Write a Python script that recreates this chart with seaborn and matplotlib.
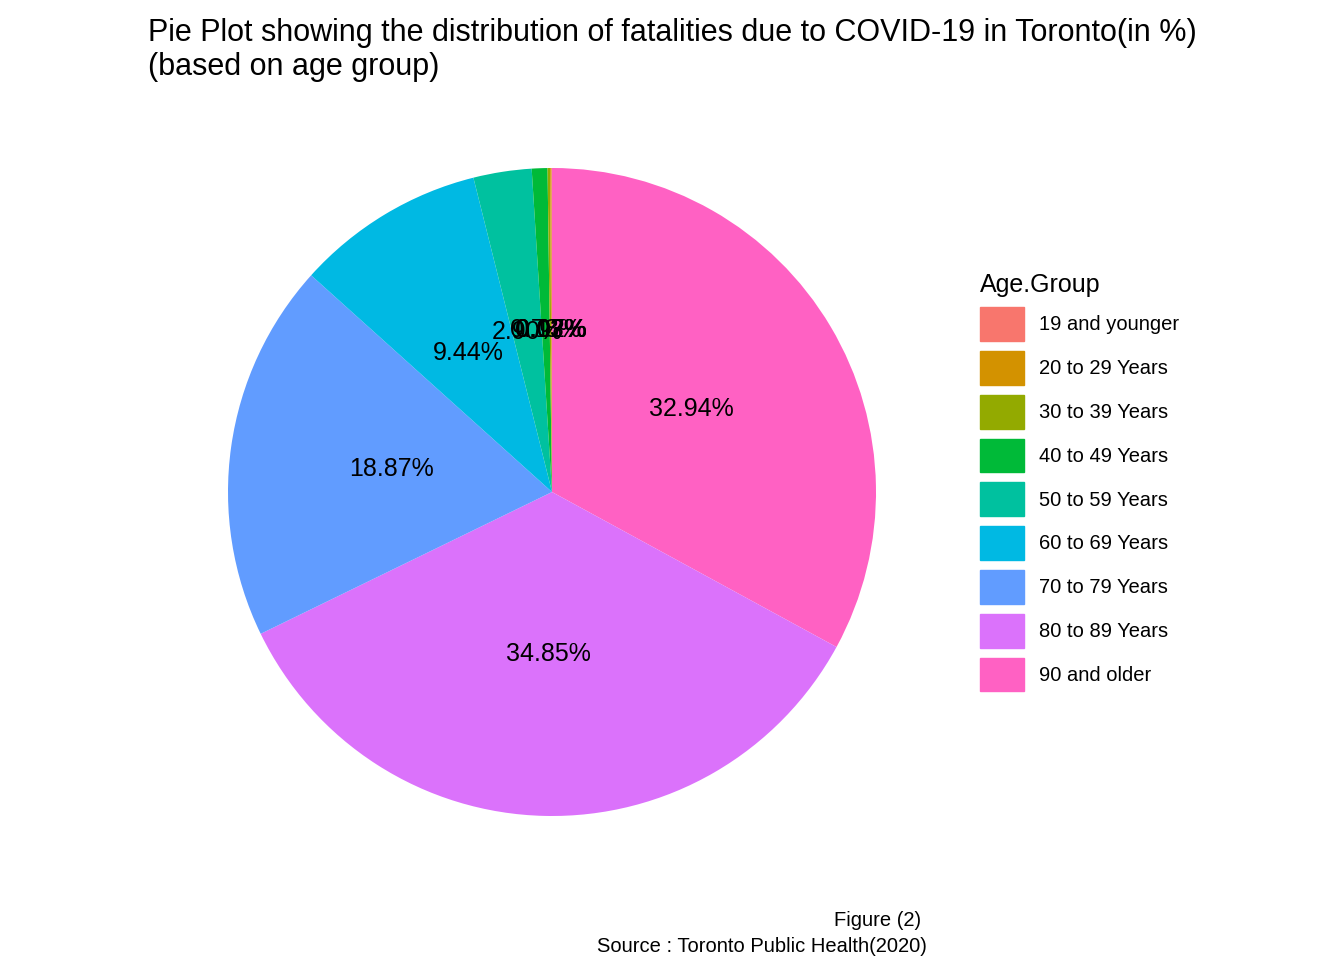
import matplotlib
matplotlib.use("Agg")
import matplotlib.pyplot as plt
import seaborn as sns

sns.set_theme(style="white")
plt.rcParams['font.family'] = ['Liberation Sans', 'DejaVu Sans']
plt.rcParams['text.color'] = 'black'

# age groups and share of fatalities (%)
age_groups = ['19 and younger', '20 to 29 Years', '30 to 39 Years', '40 to 49 Years',
              '50 to 59 Years', '60 to 69 Years', '70 to 79 Years', '80 to 89 Years',
              '90 and older']
pct = [0.02, 0.07, 0.13, 0.78, 2.90, 9.44, 18.87, 34.85, 32.94]
colors = ['#F8766D', '#D39200', '#93AA00', '#00BA38', '#00C19F',
          '#00B9E3', '#619CFF', '#DB72FB', '#FF61C3']

fig = plt.figure(figsize=(13.44, 9.6), dpi=100)
ax = fig.add_axes([(552 - 324) / 1344, 1 - (492 + 324) / 960, 648 / 1344, 648 / 960])

# draw from 90+ clockwise from the top, like ggplot's coord_polar
wedges, texts, autotexts = ax.pie(pct[::-1], colors=colors[::-1], startangle=90,
                                  counterclock=False, autopct=lambda p: f'{p:.2f}%',
                                  pctdistance=0.5, wedgeprops=dict(linewidth=0),
                                  textprops=dict(fontsize=18, color='black'))
ax.set_xlim(-1, 1)
ax.set_ylim(-1, 1)
ax.set_aspect('equal')

fig.text(148 / 1344, 1 - 50 / 960,
         'Pie Plot showing the distribution of fatalities due to COVID-19 in Toronto(in %)\n(based on age group)',
         fontsize=22, va='center', ha='left', linespacing=1.15, color='black')

handles = [plt.Rectangle((0, 0), 1, 1, color=c) for c in colors]
leg = fig.legend(handles, age_groups, title='Age.Group', loc='upper left',
                 bbox_to_anchor=(962 / 1344, 1 - 255 / 960), frameon=False, fontsize=14.5,
                 title_fontsize=18, handlelength=2.2, handleheight=2.2,
                 labelspacing=0.5, handletextpad=0.7)
leg._legend_box.align = 'left'
for t in leg.get_texts():
    t.set_color('black')

fig.text(878 / 1344, 1 - 921 / 960, 'Figure (2)', fontsize=14.5, ha='center', va='center')
fig.text(762 / 1344, 1 - 946 / 960, 'Source : Toronto Public Health(2020)', fontsize=14.5,
         ha='center', va='center')

fig.savefig('out.png', dpi=100)
